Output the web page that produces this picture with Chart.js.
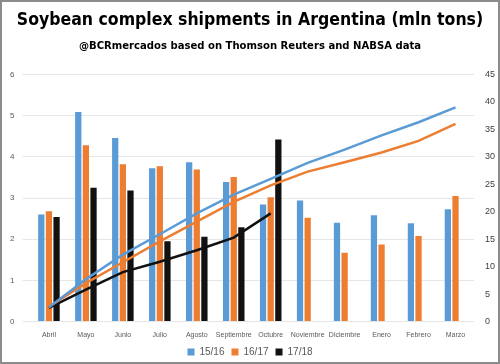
<!DOCTYPE html>
<html>
<head>
<meta charset="utf-8">
<script src="https://cdn.jsdelivr.net/npm/chart.js@4"></script>
<style>
html, body { margin: 0; padding: 0; background: #fff; }
#wrap { width: 496px; height: 360px; border: 2px solid #8c8c8c; position: relative; }
</style>
</head>
<body>
<div id="wrap"><canvas id="soy-graph" width="496" height="360"></canvas></div>
<script>
var months = ['Abril', 'Mayo', 'Junio', 'Julio', 'Agosto', 'Septiembre', 'Octubre', 'Noviembre', 'Diciembre', 'Enero', 'Febrero', 'Marzo'];

// monthly shipments (mln tons), left axis
var s1516 = [2.60, 5.09, 4.46, 3.72, 3.87, 3.39, 2.84, 2.94, 2.40, 2.58, 2.39, 2.73];
var s1617 = [2.68, 4.28, 3.82, 3.77, 3.69, 3.51, 3.02, 2.52, 1.67, 1.87, 2.08, 3.05];
var s1718 = [2.54, 3.25, 3.18, 1.95, 2.06, 2.29, 4.42, null, null, null, null, null];

// accumulated (mln tons), right axis
var acc1516 = [2.6, 7.7, 12.2, 15.9, 19.7, 23.1, 26.0, 28.9, 31.3, 33.9, 36.3, 39.0];
var acc1617 = [2.7, 7.0, 10.8, 14.6, 18.2, 21.8, 24.8, 27.3, 29.0, 30.8, 32.9, 36.0];
var acc1718 = [2.5, 5.8, 9.0, 10.9, 13.0, 15.3, 19.7, null, null, null, null, null];

var leftTicks = [0, 1, 2, 3, 4, 5, 6];
var rightTicks = [0, 5, 10, 15, 20, 25, 30, 35, 40, 45];

var blue = '#5b9bd5';
var orange = '#ed7d31';
var black = '#111111';
var narrow = "'Liberation Sans Narrow', 'DejaVu Sans Condensed', sans-serif";

var ctx = document.getElementById('soy-graph').getContext('2d');

var chart = new Chart(ctx, {
type: 'bar',
data: {
labels: months,
datasets: [
{ label: '15/16', data: s1516, backgroundColor: blue, yAxisID: 'y', order: 2 },
{ label: '16/17', data: s1617, backgroundColor: orange, yAxisID: 'y', order: 2 },
{ label: '17/18', data: s1718, backgroundColor: black, yAxisID: 'y', order: 2 },
{ type: 'line', label: 'acc 15/16', data: acc1516, borderColor: blue, borderWidth: 2.5, pointRadius: 0, yAxisID: 'y1', order: 1 },
{ type: 'line', label: 'acc 16/17', data: acc1617, borderColor: orange, borderWidth: 2.5, pointRadius: 0, yAxisID: 'y1', order: 1 },
{ type: 'line', label: 'acc 17/18', data: acc1718, borderColor: black, borderWidth: 2.5, pointRadius: 0, yAxisID: 'y1', order: 1 }
]
},
options: {
responsive: false,
animation: false,
layout: { padding: { left: 0, right: 0, top: 8, bottom: -5 } },
datasets: { bar: { categoryPercentage: 0.62, barPercentage: 0.82 } },
plugins: {
title: {
display: true,
text: 'Soybean complex shipments in Argentina (mln tons)',
color: '#000',
font: { family: narrow, size: 17.5, weight: 'bold' },
padding: { top: 0, bottom: 8 }
},
subtitle: {
display: true,
text: '@BCRmercados based on Thomson Reuters and NABSA data',
color: '#000',
font: { family: narrow, size: 11.2, weight: 'bold' },
padding: { top: 0, bottom: 22 }
},
legend: {
position: 'bottom',
labels: {
filter: function (item) { return item.datasetIndex < 3; },
boxWidth: 7,
boxHeight: 7,
color: '#595959',
font: { size: 10 },
padding: 7
}
},
tooltip: { enabled: false }
},
scales: {
x: {
grid: { display: false },
border: { display: false },
ticks: { color: '#595959', font: { size: 7 }, maxRotation: 0, autoSkip: false, padding: 1 }
},
y: {
position: 'left',
min: 0,
max: 6,
afterBuildTicks: function (axis) { axis.ticks = leftTicks.map(function (v) { return { value: v }; }); },
grid: { color: '#e6e6e6' },
border: { display: false },
ticks: { color: '#595959', font: { size: 8 }, padding: 8 }
},
y1: {
position: 'right',
min: 0,
max: 45,
afterBuildTicks: function (axis) { axis.ticks = rightTicks.map(function (v) { return { value: v }; }); },
grid: { display: false },
border: { display: false },
ticks: { color: '#404040', font: { size: 9 }, padding: 3 }
}
}
}
});
</script>
</body>
</html>
